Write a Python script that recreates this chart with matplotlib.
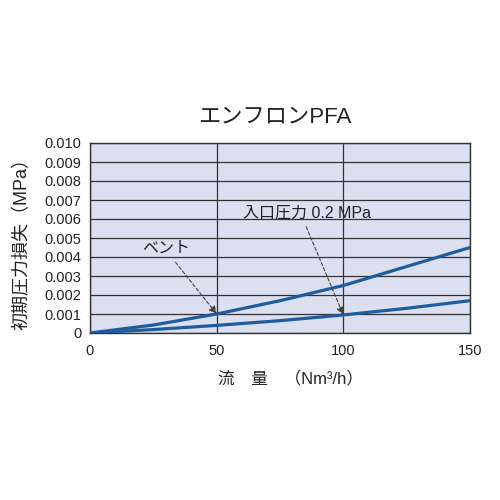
import matplotlib
matplotlib.use("Agg")
import matplotlib.pyplot as plt

plt.rcParams['font.family'] = ['Liberation Sans', 'Noto Sans CJK JP']

flow = [0, 25, 50, 75, 100, 125, 150]
vent_loss = [0, 0.00042, 0.001, 0.0017, 0.0025, 0.0035, 0.0045]
inlet_loss = [0, 0.00018, 0.0004, 0.00065, 0.00095, 0.0013, 0.0017]

x_ticks = [0, 50, 100, 150]
y_ticks = [0, 0.001, 0.002, 0.003, 0.004, 0.005, 0.006, 0.007, 0.008, 0.009, 0.010]
y_labels = ["0"] + [f"{v:.3f}" for v in y_ticks[1:]]

LINE_COLOR = "#1f5c9e"

fig = plt.figure(figsize=(5, 5), dpi=100)
ax = fig.add_axes([0.18, 0.334, 0.76, 0.38])
ax.set_facecolor("#dcdff0")

ax.plot(flow, vent_loss, color=LINE_COLOR, lw=2.3, zorder=3)
ax.plot(flow, inlet_loss, color=LINE_COLOR, lw=2.3, zorder=3)

ax.set_xlim(0, 150)
ax.set_ylim(0, 0.010)
ax.set_xticks(x_ticks)
ax.set_yticks(y_ticks)
ax.set_yticklabels(y_labels)
ax.tick_params(length=0, labelsize=10.5, colors="#222222", pad=6)
ax.tick_params(axis="x", pad=8)
ax.grid(True, color="#333333", lw=0.9)
for s in ax.spines.values():
    s.set_color("#333333")
    s.set_linewidth(1)

ax.annotate("ベント", xy=(50, 0.001), xytext=(20.5, 0.0042),
            fontsize=11.5, color="#222222",
            arrowprops=dict(arrowstyle="-|>", color="#444444", lw=0.8,
                            ls=(0, (3, 2)), shrinkA=3, shrinkB=0,
                            relpos=(0.6, 0.0)))
ax.annotate("入口圧力 0.2 MPa", xy=(100, 0.00095), xytext=(60.5, 0.0061),
            fontsize=11.5, color="#222222",
            arrowprops=dict(arrowstyle="-|>", color="#444444", lw=0.8,
                            ls=(0, (3, 2)), shrinkA=3, shrinkB=0,
                            relpos=(0.47, 0.0)))

fig.text(0.55, 0.765, "エンフロンPFA", fontsize=16, ha="center", va="center", color="#222222")
fig.text(0.045, 0.52, "初期圧力損失（MPa）", fontsize=13, rotation=90,
         ha="center", va="center", color="#222222")
fig.text(0.58, 0.243, "流　量　（Nm³/h）", fontsize=12, ha="center", va="center", color="#222222")

fig.savefig("out.png", dpi=100)
